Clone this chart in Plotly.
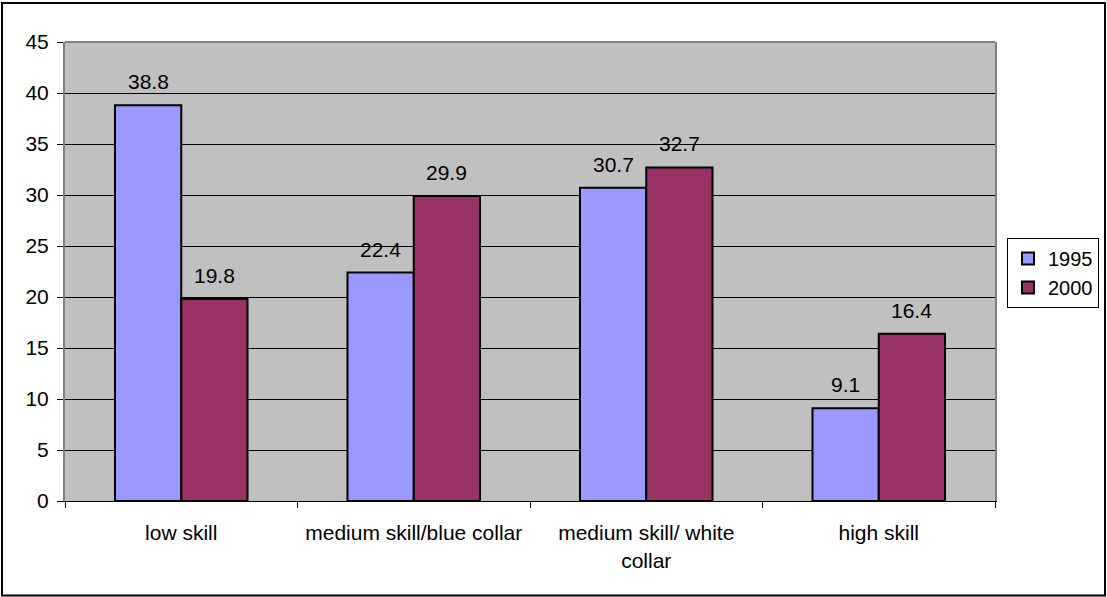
import plotly.graph_objects as go

categories = ["low skill", "medium skill/blue collar", "medium skill/ white<br>collar", "high skill"]
values_1995 = [38.8, 22.4, 30.7, 9.1]
values_2000 = [19.8, 29.9, 32.7, 16.4]
y_ticks = [0, 5, 10, 15, 20, 25, 30, 35, 40, 45]

FONT = "Liberation Sans, Arial, sans-serif"
FS = 21

# plot-area geometry (pixels)
W, H = 1107, 597
L, R, T, B = 65, 112, 42, 96
PW, PH = W - L - R, H - T - B
BARGAP = 0.43
bar_px = PW / len(categories) * (1 - BARGAP) / 2

series = [("1995", values_1995, "#9999FF", -1), ("2000", values_2000, "#993366", 1)]

fig = go.Figure()
for name, vals, color, side in series:
    fig.add_trace(go.Bar(
        name=name, x=categories, y=vals,
        marker=dict(color=color, line=dict(color="black", width=2)),
    ))
    # value labels above each bar
    for cat, v in zip(categories, vals):
        fig.add_annotation(x=cat, y=v, text=f"{v:.1f}", showarrow=False,
                           xshift=side * bar_px / 2, yanchor="bottom", yshift=10,
                           font=dict(family=FONT, size=FS, color="black"))

# outer chart frame
fig.add_shape(type="rect", xref="paper", yref="paper",
              x0=(2 - L) / PW, x1=(1105 - L) / PW,
              y0=(H - B - 595.5) / PH, y1=(H - B - 3) / PH,
              line=dict(color="black", width=2), layer="below")
# top edge of the plot area
fig.add_shape(type="line", xref="paper", yref="paper", x0=0, x1=1, y0=1, y1=1,
              line=dict(color="#808080", width=2))

fig.update_layout(
    width=W, height=H,
    margin=dict(l=L, r=R, t=T, b=B, autoexpand=False),
    paper_bgcolor="white", plot_bgcolor="#C0C0C0",
    barmode="group", bargap=BARGAP, bargroupgap=0,
    font=dict(family=FONT, size=FS, color="black"),
    showlegend=True,
    legend=dict(x=(1099 - L) / PW, y=(H - B - 238) / PH, xanchor="right", yanchor="top",
                bordercolor="black", borderwidth=1, bgcolor="white",
                font=dict(size=20), itemwidth=30, tracegroupgap=0),
    xaxis=dict(showgrid=False, ticks="outside", tickson="boundaries", ticklen=6,
               tickcolor="black", showline=True, linecolor="black", linewidth=1,
               ticklabelstandoff=13, tickfont=dict(size=FS)),
    yaxis=dict(range=[0, 45], tickvals=y_ticks, showgrid=True, gridcolor="black", gridwidth=1,
               ticks="outside", ticklen=6, tickcolor="black", showline=True, mirror=True,
               linecolor="#808080", linewidth=2, zeroline=False, tickfont=dict(size=FS),
               ticklabelstandoff=4),
)

fig.write_html("out.html")
